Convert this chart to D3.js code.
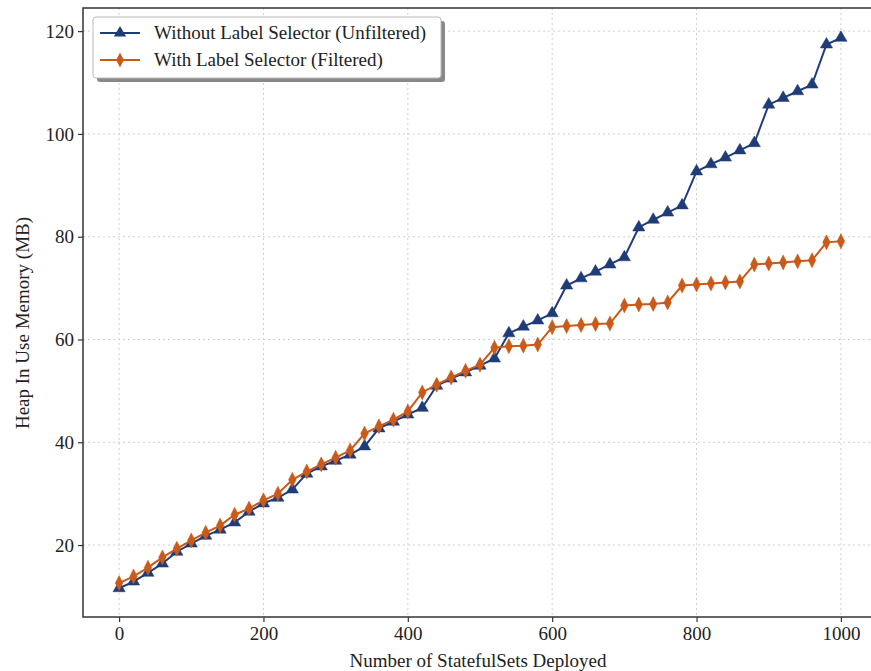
<!DOCTYPE html>
<html>
<head>
<meta charset="utf-8">
<script src="https://cdn.jsdelivr.net/npm/d3@7"></script>
<style>
  html, body { margin: 0; padding: 0; background: #fff; }
  svg { display: block; }
  text { font-family: "Liberation Serif", "Times New Roman", serif; fill: #222; }
</style>
</head>
<body>
<svg id="chart" width="871" height="671"></svg>
<script>
const statefulSets = d3.range(0, 1001, 20);
const unfiltered = [11.6, 12.9, 14.6, 16.4, 18.7, 20.3, 21.8, 23.0, 24.4, 26.5,
  28.1, 29.2, 30.8, 33.9, 35.3, 36.4, 37.6, 39.2, 42.7, 44.0,
  45.4, 46.7, 51.0, 52.4, 53.6, 54.9, 56.3, 61.2, 62.5, 63.7,
  65.1, 70.5, 71.9, 73.2, 74.6, 76.0, 81.8, 83.3, 84.7, 86.1,
  92.7, 94.1, 95.4, 96.8, 98.2, 105.7, 107.0, 108.3, 109.6, 117.4, 118.7];
const filtered = [12.6, 13.9, 15.6, 17.6, 19.3, 20.9, 22.4, 23.8, 25.9, 27.1,
  28.7, 30.0, 32.7, 34.3, 35.7, 37.0, 38.4, 41.7, 43.1, 44.4,
  46.0, 49.7, 51.2, 52.6, 53.9, 55.1, 58.4, 58.7, 58.8, 59.0,
  62.4, 62.6, 62.8, 63.0, 63.1, 66.6, 66.8, 66.9, 67.2, 70.5,
  70.7, 70.9, 71.1, 71.3, 74.6, 74.8, 75.0, 75.2, 75.4, 78.9, 79.1];
const xTicks = [0, 200, 400, 600, 800, 1000];
const yTicks = [20, 40, 60, 80, 100, 120];
const seriesNames = ["Without Label Selector (Unfiltered)", "With Label Selector (Filtered)"];
const seriesColors = ["#1f3c78", "#c95a1a"];

const svg = d3.select("#chart");
const pLeft = 83, pRight = 877, pTop = 8, pBottom = 617;
const x = d3.scaleLinear().domain([-50, 1050]).range([pLeft, pRight]);
const y = d3.scaleLinear().domain([6.0, 124.5]).range([pBottom, pTop]);
const fontSize = 19;

// grid
const grid = svg.append("g");
grid.selectAll(".gx").data(xTicks).join("line")
  .attr("x1", d => x(d)).attr("x2", d => x(d)).attr("y1", pTop).attr("y2", pBottom)
  .attr("stroke", "#cfcfcf").attr("stroke-width", 1).attr("stroke-dasharray", "2,3");
grid.selectAll(".gy").data(yTicks).join("line")
  .attr("x1", pLeft).attr("x2", pRight).attr("y1", d => y(d)).attr("y2", d => y(d))
  .attr("stroke", "#cfcfcf").attr("stroke-width", 1).attr("stroke-dasharray", "2,3");

// axes
const xAxis = svg.append("g").attr("transform", `translate(0,${pBottom})`)
  .call(d3.axisBottom(x).tickValues(xTicks).tickSize(5).tickPadding(5).tickFormat(d3.format("d")));
const yAxis = svg.append("g").attr("transform", `translate(${pLeft},0)`)
  .call(d3.axisLeft(y).tickValues(yTicks).tickSize(5).tickPadding(4).tickFormat(d3.format("d")));
[xAxis, yAxis].forEach(a => {
  a.select(".domain").remove();
  a.selectAll(".tick line").attr("stroke", "#333").attr("stroke-width", 1.2);
  a.selectAll("text").attr("font-size", fontSize).attr("fill", "#222")
    .attr("font-family", '"Liberation Serif", "Times New Roman", serif');
});

// frame
svg.append("rect").attr("x", pLeft).attr("y", pTop).attr("width", pRight - pLeft).attr("height", pBottom - pTop)
  .attr("fill", "none").attr("stroke", "#333").attr("stroke-width", 1.5);

// axis labels
svg.append("text").attr("x", 478).attr("y", 667)
  .attr("text-anchor", "middle").attr("font-size", fontSize).text("Number of StatefulSets Deployed");
svg.append("text").attr("transform", `translate(29,323) rotate(-90)`)
  .attr("text-anchor", "middle").attr("font-size", fontSize).text("Heap In Use Memory (MB)");

// lines
const series = [unfiltered, filtered];
const line = d3.line().x((d, i) => x(statefulSets[i])).y(d => y(d));
const tri = d3.symbol().type(d3.symbolTriangle).size(65);
const diamond = "M0,-7.5 L3.8,0 L0,7.5 L-3.8,0 Z";
series.forEach((vals, si) => {
  svg.append("path").datum(vals).attr("d", line).attr("fill", "none")
    .attr("stroke", seriesColors[si]).attr("stroke-width", 2);
  svg.append("g").selectAll("path").data(vals).join("path")
    .attr("transform", (d, i) => `translate(${x(statefulSets[i])},${y(d)})`)
    .attr("d", si === 0 ? tri() : diamond)
    .attr("fill", seriesColors[si]).attr("stroke", seriesColors[si]).attr("stroke-width", 0.5);
});

// legend
const lg = svg.append("g");
lg.append("rect").attr("x", 97).attr("y", 21).attr("width", 348).attr("height", 61).attr("rx", 3)
  .attr("fill", "#888");
lg.append("rect").attr("x", 93).attr("y", 17).attr("width", 348).attr("height", 61).attr("rx", 3)
  .attr("fill", "#fff").attr("stroke", "#bbb").attr("stroke-width", 1);
seriesNames.forEach((name, si) => {
  const yy = 33 + si * 27;
  lg.append("line").attr("x1", 100).attr("x2", 140).attr("y1", yy).attr("y2", yy)
    .attr("stroke", seriesColors[si]).attr("stroke-width", 2);
  lg.append("path").attr("transform", `translate(120,${yy})`)
    .attr("d", si === 0 ? tri() : diamond).attr("fill", seriesColors[si]);
  lg.append("text").attr("x", 154).attr("y", yy + 6).attr("font-size", fontSize).text(name);
});
</script>
</body>
</html>
